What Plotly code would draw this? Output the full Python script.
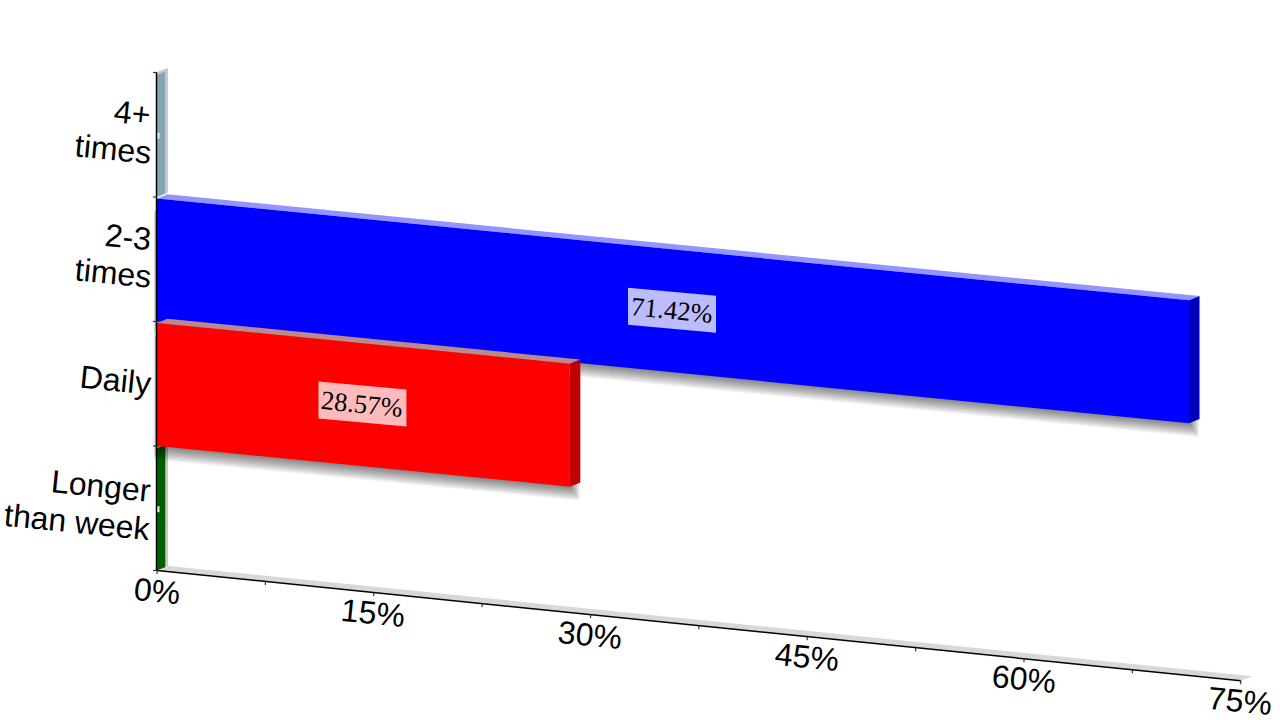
import plotly.graph_objects as go

# ---- data (top to bottom) ----
categories = [["4+", "times"], ["2-3", "times"], ["Daily"], ["Longer", "than week"]]
values = [0.0, 71.42, 28.57, 0.0]
data_labels = ["", "71.42%", "28.57%", ""]
front_colors = ["#85a5b2", "#0000ff", "#ff0000", "#005f00"]
top_colors = ["#c8c8c8", "#9494ff", "#bb8a8a", "#c8c8c8"]
side_colors = ["#85a5b2", "#0000b8", "#c00000", "#005f00"]
tick_values = [0, 15, 30, 45, 60, 75]
tick_labels = ["0%", "15%", "30%", "45%", "60%", "75%"]
minor_ticks = [7.5, 22.5, 37.5, 52.5, 67.5]

# ---- oblique projection of the chart's own coordinates ----
X0, PX_PER_PCT = 157.0, 14.45
Y_TOP, CAT_H = 72.5, 124.5
SLOPE_BAR, SLOPE_FLOOR = 1.425, 1.47
DEPTH_X, DEPTH_Y = 10.5, -4.2
TILT = 5.7
TOP_INSET = 1.5


def proj(v, c, d=0.0, slope=SLOPE_BAR):
    """value v (%), category edge c (0=top .. 4=floor), depth d (0..1) -> plot units"""
    return (X0 + PX_PER_PCT * v + DEPTH_X * d, Y_TOP + CAT_H * c + slope * v + DEPTH_Y * d)


def top(v, c, d=0.0):
    x, y = proj(v, c, d)
    return (x, y + TOP_INSET)


def poly(points, color, opacity=1.0):
    xs = [p[0] for p in points] + [points[0][0]]
    ys = [p[1] for p in points] + [points[0][1]]
    return go.Scatter(x=xs, y=ys, mode="lines", fill="toself", fillcolor=color, opacity=opacity,
                      line=dict(width=0), hoverinfo="skip", showlegend=False)


def line(points, width=1.5, color="#000000"):
    return go.Scatter(x=[p[0] for p in points], y=[p[1] for p in points], mode="lines",
                      line=dict(width=width, color=color), hoverinfo="skip", showlegend=False)


def shadow(v, c, layers=14):
    out = []
    for k in range(layers):
        g = 1.0 * k
        pts = [(proj(v, c)[0] + 1 + g * 0.7, proj(v, c)[1] + 14),
               (proj(v, c + 1)[0] + 1 + g * 0.7, proj(v, c + 1)[1] + 1 + g),
               (proj(0, c + 1)[0] - g * 0.25, proj(0, c + 1)[1] + 1 + g),
               (proj(0, c)[0] - g * 0.25, proj(0, c)[1] + 14)]
        out.append(poly(pts, "#000000", 0.04))
    return out


traces = []

# floor
F = SLOPE_FLOOR
traces.append(poly([proj(0, 4, 0, F), proj(75, 4, 0, F), proj(75, 4, 1.1, F), proj(0, 4, 1.1, F)], "#d8d8d8"))


def wall(c):
    """zero-valued bars show only as a thin slab along the back wall"""
    return [poly([proj(0, c, 0), proj(0, c, 0.82), proj(0, c + 1, 0.82), proj(0, c + 1, 0)], side_colors[c]),
            poly([proj(0, c, 0.82), proj(0, c, 1.05), proj(0, c + 1, 1.05), proj(0, c + 1, 0.82)], "#c8c8c8"),
            poly([proj(0, c, 0), proj(0, c, 1.05), (proj(0, c, 1.05)[0], proj(0, c, 1.05)[1] + 2.5),
                  (proj(0, c, 0)[0], proj(0, c, 0)[1] + 2.5)], top_colors[c])]


# bars, drawn back to front in the same order as the reference stacking
for c in [3, 0, 1, 2]:
    v = values[c]
    if v == 0:
        traces += wall(c)
        mid = proj(0, c + 0.5)
        traces.append(line([(mid[0] - 0.5, mid[1] + 1), (mid[0] + 2.5, mid[1] + 1)], 6, "#e8e8e8"))
        continue
    traces += shadow(v, c)
    traces.append(poly([top(0, c), top(v, c), top(v, c, 1), top(0, c, 1)], top_colors[c]))
    traces.append(poly([top(v, c), top(v, c, 1), proj(v, c + 1, 1), proj(v, c + 1)], side_colors[c]))
    traces.append(poly([top(0, c), top(v, c), proj(v, c + 1), proj(0, c + 1)], front_colors[c]))

# axes
traces.append(line([(X0 - 0.5, Y_TOP), (X0 - 0.5, Y_TOP + 4 * CAT_H + 0.5)]))
traces.append(line([proj(0, 4, 0, F), proj(75, 4, 0, F)]))
for c in range(5):
    p = proj(0, c)
    traces.append(line([(p[0] - 4, p[1]), p], 1.2, "#333333"))
for t in tick_values + minor_ticks:
    p = proj(t, 4, 0, F)
    traces.append(line([p, (p[0], p[1] + 3.5)], 1.2, "#333333"))

annotations = []


def text(x, y, s, size, family):
    annotations.append(dict(x=x, y=y, xref="x", yref="y", text=s, showarrow=False, textangle=TILT,
                            xanchor="center", yanchor="middle",
                            font=dict(size=size, family=family, color="#000000")))


# value axis labels
for t, s in zip(tick_values, tick_labels):
    p = proj(t, 4, 0, F)
    text(p[0] - 0.5, p[1] + 20.5, s, 32, "Liberation Sans")

# category labels, one text per line, right edge on the axis
LABEL_RIGHT = 150.5
WIDTHS = {"4+": 37, "times": 76, "2-3": 46, "Daily": 70, "Longer": 99, "than week": 146}
for c, lines in enumerate(categories):
    n = len(lines)
    for i, s in enumerate(lines):
        yc = proj(0, c + 0.5)[1] - 4 + (i - (n - 1) / 2) * 36
        text(LABEL_RIGHT - WIDTHS[s] / 2, yc, s, 32, "Liberation Sans")

# data labels on sheared translucent plates
BOX_W, BOX_H = 88, 37
for c, (v, s) in enumerate(zip(values, data_labels)):
    if not s:
        continue
    cx, cy = proj(v / 2, c + 0.5)
    cx -= 1
    sk = 4.0
    traces.append(poly([(cx - BOX_W / 2, cy - BOX_H / 2 - sk), (cx + BOX_W / 2, cy - BOX_H / 2 + sk),
                        (cx + BOX_W / 2, cy + BOX_H / 2 + sk), (cx - BOX_W / 2, cy + BOX_H / 2 - sk)],
                       "#ffffff", 0.735))
    text(cx, cy, s, 26.5, "Liberation Serif")

fig = go.Figure(traces)
fig.update_layout(
    width=1280, height=720, margin=dict(l=0, r=0, t=0, b=0),
    paper_bgcolor="#ffffff", plot_bgcolor="#ffffff", showlegend=False,
    xaxis=dict(range=[0, 1280], visible=False, fixedrange=True),
    yaxis=dict(range=[720, 0], visible=False, fixedrange=True),
    annotations=annotations,
)
fig.write_html("out.html", config=dict(displayModeBar=False),
               post_script="document.body.style.margin='0';document.body.style.overflow='hidden';")
